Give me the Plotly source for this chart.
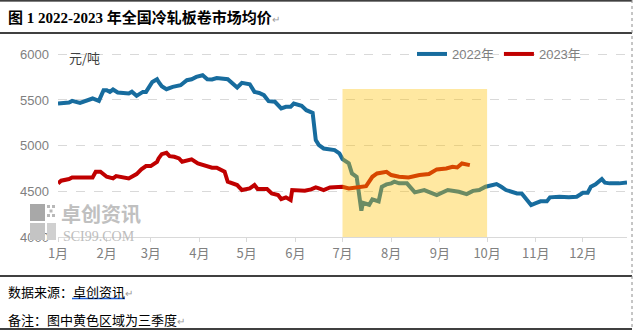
import plotly.graph_objects as go

# ---------------- data ----------------
dates_2022 = ["01-01","01-08","01-10","01-15","01-23","01-27","01-30","02-01","02-03","02-05",
              "02-08","02-15","02-17","02-20","02-24","02-26","03-02","03-05","03-06","03-08",
              "03-11","03-15","03-20","03-24","03-27","03-30","04-03","04-06","04-09","04-12",
              "04-19","04-24","04-25","04-28","05-03","05-06","05-09","05-12","05-15","05-19",
              "05-23","05-26","05-29","05-31","06-05","06-08","06-12","06-14","06-16","06-19",
              "06-26","06-29","07-01","07-05","07-07","07-10","07-11","07-13","07-14","07-18",
              "07-20","07-24","07-26","07-29","08-01","08-03","08-06","08-11","08-16","08-22",
              "08-30","09-06","09-13","09-18","09-22","09-26","09-30","10-07","10-10","10-13",
              "10-20","10-23","10-26","10-29","11-01","11-04","11-08","11-10","11-16","11-22",
              "11-27","12-01","12-04","12-06","12-09","12-13","12-15","12-18","12-24","12-29"]
price_2022 = [5461,5472,5490,5468,5516,5490,5607,5607,5588,5614,
              5581,5570,5590,5545,5588,5588,5697,5727,5697,5650,
              5618,5643,5661,5716,5727,5752,5771,5727,5724,5740,
              5727,5650,5636,5687,5672,5588,5577,5552,5487,5480,
              5407,5425,5425,5461,5436,5388,5359,5060,5006,4969,
              4951,4915,4853,4806,4696,4659,4550,4288,4375,4353,
              4412,4390,4550,4576,4587,4605,4587,4587,4489,4514,
              4459,4514,4495,4470,4505,4514,4550,4579,4550,4514,
              4477,4477,4412,4350,4370,4390,4390,4434,4441,4434,
              4441,4485,4485,4550,4576,4634,4594,4587,4587,4598]

dates_2023 = ["01-01","01-03","01-08","01-10","01-23","01-25","01-28","02-01","02-05","02-07",
              "02-15","02-20","02-23","02-26","03-01","03-05","03-06","03-08","03-11","03-13",
              "03-16","03-19","03-21","03-26","03-27","03-31","04-03","04-06","04-09","04-12",
              "04-15","04-17","04-19","04-23","04-25","04-28","05-03","05-06","05-08","05-14",
              "05-17","05-21","05-23","05-26","05-29","05-30","06-07","06-11","06-14","06-16",
              "06-19","06-23","06-29","07-01","07-05","07-12","07-16","07-20","07-23","07-29",
              "08-01","08-06","08-12","08-19","08-25","08-30","09-05","09-09","09-12","09-15",
              "09-18","09-20"]
price_2023 = [4587,4616,4634,4652,4652,4714,4714,4659,4641,4667,
              4641,4689,4740,4776,4776,4823,4860,4907,4921,4885,
              4878,4860,4823,4841,4849,4805,4787,4776,4758,4758,
              4732,4714,4605,4587,4569,4514,4532,4569,4525,4525,
              4477,4459,4415,4434,4405,4514,4507,4521,4543,4532,
              4514,4543,4550,4550,4532,4550,4557,4659,4696,4714,
              4678,4659,4652,4678,4689,4740,4750,4769,4761,4805,
              4798,4787]

month_ticks = ["01-01","02-01","03-01","04-01","05-01","06-01",
               "07-01","08-01","09-01","10-01","11-01","12-01"]
month_labels = ["1月","2月","3月","4月","5月","6月","7月","8月","9月","10月","11月","12月"]
y_ticks = [4000, 4500, 5000, 5500, 6000]
series_names = ["2022年", "2023年"]
q3_start, q3_end = "07-01", "10-01"
q3_top = 5620

BASE = "2022-"  # common axis year (month-day comparison)

# ---------------- layout helpers ----------------
W, H = 636, 330
L, R, T, B = 58, 9, 36, 93
PW, PH = W - L - R, H - T - B


def px_x(x):
    return (x - L) / PW


def px_y(y):
    return (H - B - y) / PH


BLUE = "#176C9E"
RED = "#C00000"
GRID = "#D9D9D9"
CJK = "Noto Sans CJK SC"

fig = go.Figure()
fig.add_trace(go.Scatter(x=[BASE + d for d in dates_2022], y=price_2022, mode="lines",
                         name=series_names[0], line=dict(color=BLUE, width=4)))
fig.add_trace(go.Scatter(x=[BASE + d for d in dates_2023], y=price_2023, mode="lines",
                         name=series_names[1], line=dict(color=RED, width=4)))

shapes = []
# third-quarter highlight (drawn above the lines, translucent)
shapes.append(dict(type="rect", xref="x", yref="y", x0=BASE + q3_start, x1=BASE + q3_end,
                   y0=y_ticks[0], y1=q3_top, fillcolor="#FFC000", opacity=0.37,
                   line=dict(width=0), layer="above"))
# document frame lines
for yy, w in [(0.8, 1.2), (33, 1.5), (276, 1.5), (329, 1.5)]:
    shapes.append(dict(type="line", xref="paper", yref="paper", x0=px_x(0), x1=px_x(632),
                       y0=px_y(yy), y1=px_y(yy), line=dict(color="#000000", width=w)))
shapes.append(dict(type="line", xref="paper", yref="paper", x0=px_x(632), x1=px_x(632),
                   y0=px_y(0), y1=px_y(330), line=dict(color="#8C8C8C", width=1, dash="dot")))
# blue hyperlink underline
shapes.append(dict(type="line", xref="paper", yref="paper", x0=px_x(72), x1=px_x(125),
                   y0=px_y(298.5), y1=px_y(298.5), line=dict(color="#1F5FD6", width=1.5)))
# watermark icon
for (x0, y0, x1, y1, c) in [(30, 204, 45, 221, "#A8A8A8"), (30, 223, 45, 240, "#C4C4C4"),
                            (47, 223, 56, 240, "#D0D0D0"),
                            (47, 205, 50, 208, "#B8B8B8"), (52, 205, 55, 208, "#B8B8B8"),
                            (49.5, 209.5, 52.5, 212.5, "#B8B8B8"),
                            (47, 214, 50, 217, "#B8B8B8"), (52, 214, 55, 217, "#B8B8B8")]:
    shapes.append(dict(type="rect", xref="paper", yref="paper", x0=px_x(x0), x1=px_x(x1),
                       y0=px_y(y1), y1=px_y(y0), fillcolor=c, line=dict(width=0), layer="above"))

mark = "<span style='color:#9A9A9A;font-size:10px'>↵</span>"
annotations = [
    dict(text="<b>图 1 2022-2023 年全国冷轧板卷市场均价</b>" + mark, xref="paper", yref="paper",
         x=px_x(6), y=px_y(18), xanchor="left", yanchor="middle", showarrow=False,
         font=dict(family="Liberation Serif, " + CJK, size=15, color="#000000")),
    dict(text="元/吨", xref="paper", yref="paper", x=px_x(67), y=px_y(58),
         xanchor="left", yanchor="middle", showarrow=False,
         font=dict(family=CJK, size=13, color="#404040")),
    dict(text="<b>卓创资讯</b>", xref="paper", yref="paper", x=px_x(59), y=px_y(213),
         xanchor="left", yanchor="middle", showarrow=False,
         font=dict(family=CJK, size=20, color="#C0C0C0")),
    dict(text="SCI99.COM", xref="paper", yref="paper", x=px_x(61), y=px_y(236),
         xanchor="left", yanchor="middle", showarrow=False,
         font=dict(family="Liberation Serif", size=14, color="#BDBDBD")),
    dict(text="数据来源：卓创资讯" + mark, xref="paper", yref="paper", x=px_x(6), y=px_y(291),
         xanchor="left", yanchor="middle", showarrow=False,
         font=dict(family=CJK, size=13, color="#000000")),
    dict(text="备注：图中黄色区域为三季度" + mark, xref="paper", yref="paper", x=px_x(6), y=px_y(319),
         xanchor="left", yanchor="middle", showarrow=False,
         font=dict(family=CJK, size=13, color="#000000")),
]

fig.update_layout(
    width=W, height=H, margin=dict(l=L, r=R, t=T, b=B),
    paper_bgcolor="#FFFFFF", plot_bgcolor="#FFFFFF",
    showlegend=True,
    legend=dict(orientation="h", x=px_x(412), y=px_y(54), xanchor="left", yanchor="middle",
                font=dict(family="Liberation Sans, " + CJK, size=13, color="#808080"),
                bgcolor="rgba(0,0,0,0)", itemwidth=30, tracegroupgap=0),
    xaxis=dict(type="date", range=[BASE + "01-01", BASE + "12-29"],
               tickvals=[BASE + m for m in month_ticks], ticktext=month_labels,
               showgrid=False, showline=True, linecolor=GRID, linewidth=1,
               ticks="outside", ticklen=4, tickcolor=GRID,
               tickfont=dict(family=CJK, size=13, color="#808080"), zeroline=False),
    yaxis=dict(range=[4000, 6200], tickvals=y_ticks, showgrid=True, gridcolor=GRID,
               griddash="dash", gridwidth=1, zeroline=False, showline=False,
               ticklabelstandoff=8,
               tickfont=dict(family="Liberation Sans", size=13, color="#808080")),
    shapes=shapes, annotations=annotations,
)

fig.write_html("out.html")
